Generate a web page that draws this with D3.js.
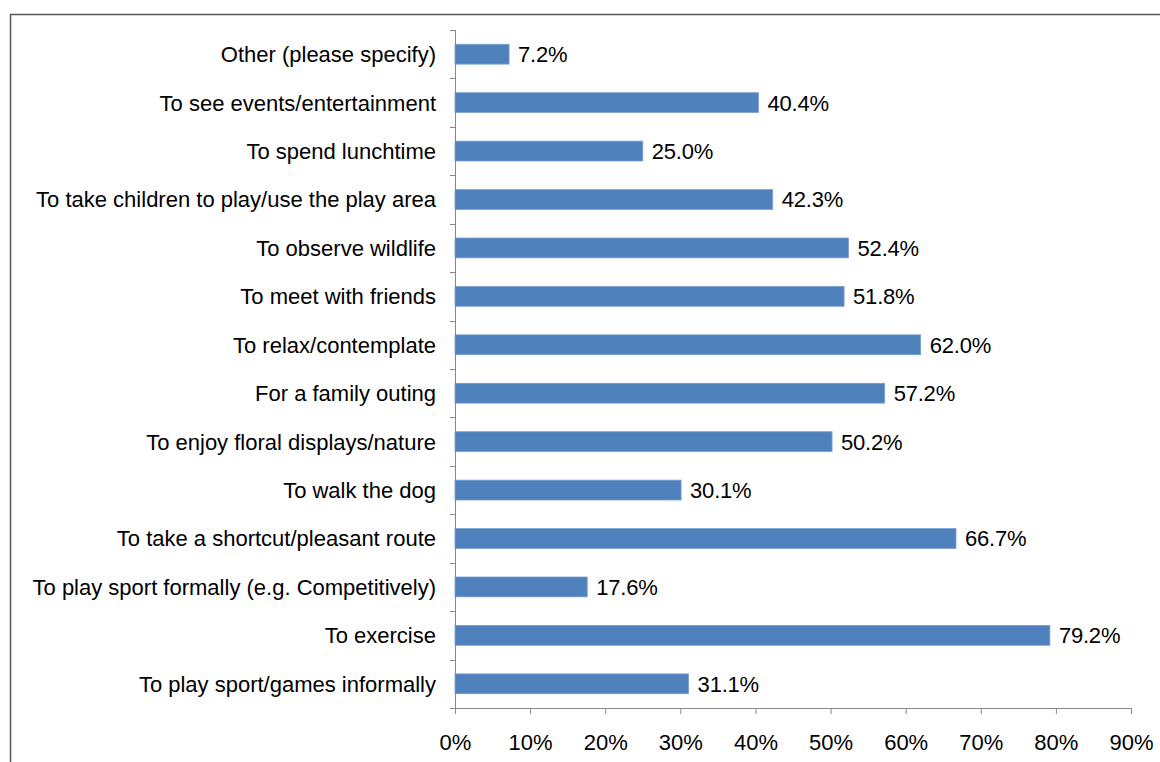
<!DOCTYPE html>
<html><head><meta charset="utf-8">
<script src="https://cdn.jsdelivr.net/npm/d3@7"></script>
<style>
html,body{margin:0;padding:0;background:#fff;}
svg{display:block;}
text{font-family:"Liberation Sans",Arial,sans-serif;fill:#000;}
</style></head>
<body>
<svg id="c" width="1160" height="762"></svg>
<script>
const categories = [
  "Other (please specify)",
  "To see events/entertainment",
  "To spend lunchtime",
  "To take children to play/use the play area",
  "To observe wildlife",
  "To meet with friends",
  "To relax/contemplate",
  "For a family outing",
  "To enjoy floral displays/nature",
  "To walk the dog",
  "To take a shortcut/pleasant route",
  "To play sport formally (e.g. Competitively)",
  "To exercise",
  "To play sport/games informally"
];
const values = [7.2, 40.4, 25.0, 42.3, 52.4, 51.8, 62.0, 57.2, 50.2, 30.1, 66.7, 17.6, 79.2, 31.1];
const xTicks = [0, 10, 20, 30, 40, 50, 60, 70, 80, 90];

const svg = d3.select("#c");
// outer frame
svg.append("rect").attr("x", 10.5).attr("y", 14.5).attr("width", 1200).attr("height", 800)
  .attr("fill", "none").attr("stroke", "#555").attr("stroke-width", 1.5);

const pLeft = 455, pRight = 1131, pTop = 30, pBottom = 708;
const fs = 22;
const x = d3.scaleLinear().domain([0, 90]).range([pLeft, pRight]);
const y = d3.scaleBand().domain(categories).range([pTop, pBottom]).paddingInner(0.59).paddingOuter(0.295);
const yb = d3.scaleBand().domain(categories).range([pTop, pBottom]);

// bars
svg.append("g").selectAll("rect").data(values).join("rect")
  .attr("x", x(0)).attr("y", (d, i) => y(categories[i]))
  .attr("width", d => x(d) - x(0)).attr("height", y.bandwidth())
  .attr("fill", "#4f81bd").attr("stroke", "#7a9fd0").attr("stroke-width", 0.8);

// value labels
svg.append("g").selectAll("text").data(values).join("text")
  .attr("x", d => x(d) + 9).attr("y", (d, i) => y(categories[i]) + y.bandwidth() / 2)
  .attr("dy", "0.36em").attr("font-size", fs).attr("letter-spacing", -0.2)
  .text(d => d.toFixed(1) + "%");

// x axis
const xAxis = d3.axisBottom(x).tickValues(xTicks).tickSize(6).tickPadding(20).tickFormat(d => d + "%");
const gx = svg.append("g").attr("transform", `translate(0,${pBottom})`).call(xAxis);
gx.select(".domain").attr("stroke", "#888").attr("d", `M${pLeft},0.5H${pRight}`);
gx.selectAll(".tick line").attr("stroke", "#888");
gx.selectAll(".tick text").attr("font-size", fs).attr("font-family", '"Liberation Sans",Arial,sans-serif').attr("fill", "#000");

// y axis line and ticks at band boundaries
const gy = svg.append("g");
gy.append("line").attr("x1", pLeft + 0.5).attr("x2", pLeft + 0.5).attr("y1", pTop).attr("y2", pBottom)
  .attr("stroke", "#888");
const bounds = categories.map(c => yb(c)).concat([pBottom]);
gy.selectAll("line.t").data(bounds).join("line").attr("class", "t")
  .attr("x1", pLeft - 5).attr("x2", pLeft).attr("y1", d => Math.round(d) + 0.5).attr("y2", d => Math.round(d) + 0.5)
  .attr("stroke", "#888");
gy.selectAll("text").data(categories).join("text")
  .attr("x", 436).attr("y", d => yb(d) + yb.bandwidth() / 2).attr("dy", "0.36em")
  .attr("text-anchor", "end").attr("font-size", fs).text(d => d);
</script>
</body></html>
